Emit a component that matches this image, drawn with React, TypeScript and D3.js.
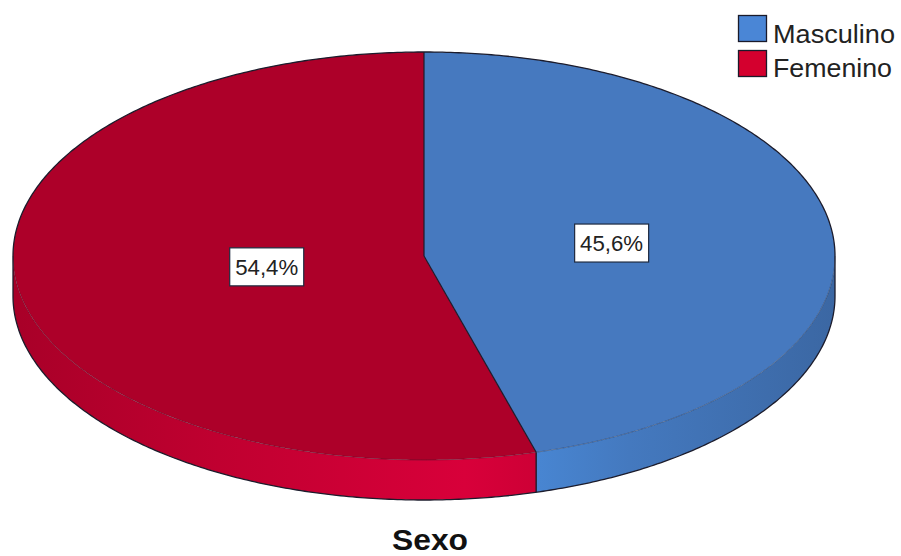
import React from "react";
import * as d3 from "d3";

const categories = ["Masculino", "Femenino"];
const values = [45.6, 54.4];
const labels = ["45,6%", "54,4%"];
const title = "Sexo";

const W = 901, H = 556;
const cx = 424, cy = 256, rx = 411, ry = 204, depth = 40;
const topColors = ["#4679bf", "#ad0029"];
const sideLight = ["#4b8fe0", "#d8003a"];
const sideMid = ["#4479bf", "#c00030"];
const sideDark = ["#3b67a3", "#a80028"];
const legendColors = ["#4a86d6", "#d4002e"];

function pt(a: number, dy = 0): [number, number] {
  return [cx + rx * Math.sin(a), cy - ry * Math.cos(a) + dy];
}

function arcPts(a0: number, a1: number, dy = 0): [number, number][] {
  const n = Math.max(2, Math.ceil(Math.abs(a1 - a0) / 0.01));
  return d3.range(n + 1).map((i) => pt(a0 + ((a1 - a0) * i) / n, dy));
}

export default function App() {
  const pie = d3.pie<number>().sort(null).value((d) => d)(values);
  const line = d3.line();

  const sides: JSX.Element[] = [];
  const tops: JSX.Element[] = [];
  const labelEls: JSX.Element[] = [];
  const edges: JSX.Element[] = [];

  pie.forEach((s, i) => {
    const a0 = s.startAngle, a1 = s.endAngle;
    const f0 = Math.max(a0, Math.PI / 2), f1 = Math.min(a1, (3 * Math.PI) / 2);
    if (f1 > f0) {
      const top = arcPts(f0, f1);
      const bot = arcPts(f0, f1, depth).reverse();
      sides.push(
        <path key={"s" + i} d={line([...top, ...bot])! + "Z"} fill={`url(#side${i})`} />
      );
    }
    const pts: [number, number][] = [[cx, cy], ...arcPts(a0, a1)];
    tops.push(<path key={"t" + i} d={line(pts)! + "Z"} fill={topColors[i]} />);
    const alpha = a1 - a0;
    const f = (4 * Math.sin(alpha / 2)) / (3 * alpha);
    const mid = (a0 + a1) / 2;
    const lx = cx + rx * f * Math.sin(mid);
    const ly = cy - ry * f * Math.cos(mid);
    labelEls.push(
      <g key={"l" + i}>
        <rect x={lx - 37} y={ly - 19} width={74} height={38} fill="white" stroke="#1e2a40" strokeWidth={1.2} />
        <text x={lx} y={ly + 8} textAnchor="middle" fontSize={22} fontFamily="Liberation Sans, Arial, sans-serif" fill="#222" textLength={63} lengthAdjust="spacingAndGlyphs">
          {labels[i]}
        </text>
      </g>
    );
  });

  pie.forEach((s, i) => {
    const [x, y] = pt(s.startAngle);
    edges.push(<line key={"e" + i} x1={cx} y1={cy} x2={x} y2={y} stroke="#1c1c2c" strokeWidth={1.2} />);
    const a = s.startAngle;
    if (a > Math.PI / 2 && a < (3 * Math.PI) / 2) {
      edges.push(<line key={"v" + i} x1={x} y1={y} x2={x} y2={y + depth} stroke="#1c1c2c" strokeWidth={1.4} />);
    }
  });
  // silhouette: back half of top rim, front bottom rim, side verticals
  const silhouette =
    line([...arcPts(-Math.PI / 2, Math.PI / 2), ...arcPts(Math.PI / 2, -Math.PI / 2, depth).map((p) => p)].slice(0))!;
  const backRim = line([...arcPts(Math.PI / 2, Math.PI / 2, depth)]);
  const backTop = arcPts(-Math.PI / 2, Math.PI / 2);
  const frontBot = arcPts(Math.PI / 2, (3 * Math.PI) / 2, depth);
  const sil = line([...backTop, ...frontBot])! + "Z";
  const frontTopRim = line(arcPts(Math.PI / 2, (3 * Math.PI) / 2))!;
  void silhouette; void backRim;

  return (
    <svg width={W} height={H} style={{ position: "absolute", left: 0, top: 0, background: "white" }}>
      <defs>
        {[0, 1].map((i) => (
          <linearGradient key={i} id={"side" + i} gradientUnits="userSpaceOnUse" x1={cx - rx} y1={0} x2={cx + rx} y2={0}>
            <stop offset="0" stopColor={sideDark[i]} />
            <stop offset="0.25" stopColor={sideMid[i]} />
            <stop offset="0.55" stopColor={sideLight[i]} />
            <stop offset="0.75" stopColor={sideMid[i]} />
            <stop offset="1" stopColor={sideDark[i]} />
          </linearGradient>
        ))}
      </defs>
      {sides}
      {tops}
      <path d={frontTopRim} fill="none" stroke="#1c1c2c" strokeOpacity={0.35} strokeWidth={1} />
      <path d={sil} fill="none" stroke="#1c1c2c" strokeWidth={1.3} />
      {edges}
      {labelEls}
      {categories.map((c, i) => (
        <g key={c}>
          <rect x={738.5} y={15.5 + i * 35} width={28} height={26} fill={legendColors[i]} stroke="#1a1a2a" strokeWidth={1.3} />
          <text x={773} y={43 + i * 34} fontSize={26} fontFamily="Liberation Sans, Arial, sans-serif" fill="#222" textLength={i === 0 ? 122 : 119} lengthAdjust="spacingAndGlyphs">
            {c}
          </text>
        </g>
      ))}
      <text x={430} y={550} textAnchor="middle" fontSize={29} fontWeight="bold" fontFamily="Liberation Sans, Arial, sans-serif" fill="#111" textLength={76} lengthAdjust="spacingAndGlyphs">
        {title}
      </text>
    </svg>
  );
}
